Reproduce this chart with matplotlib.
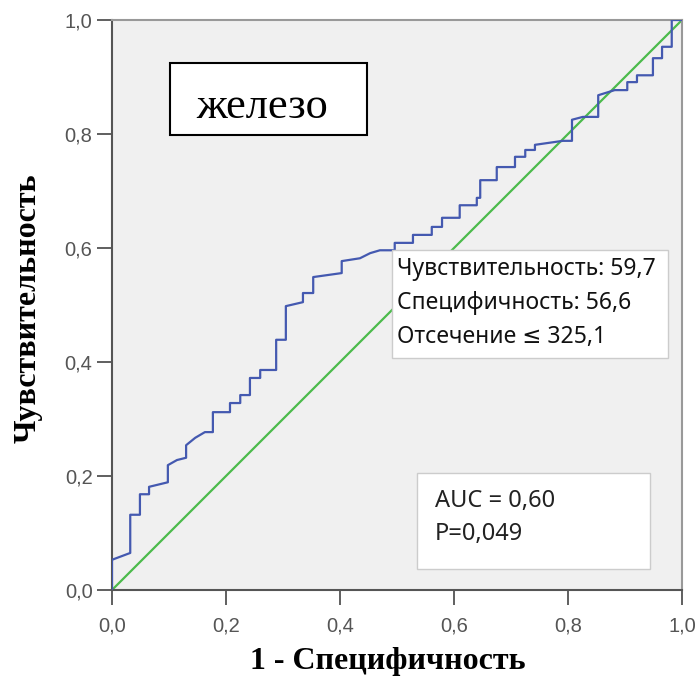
import matplotlib
matplotlib.use("Agg")
import matplotlib.pyplot as plt
from matplotlib.patches import Rectangle

# ROC curve vertices (1 - specificity, sensitivity)
fpr = [0.0, 0.0, 0.032, 0.032, 0.049, 0.049, 0.065, 0.065, 0.098, 0.098,
       0.114, 0.130, 0.130, 0.146, 0.163, 0.177, 0.177, 0.207, 0.207, 0.225,
       0.225, 0.242, 0.242, 0.260, 0.260, 0.288, 0.288, 0.305, 0.305, 0.335,
       0.335, 0.353, 0.353, 0.403, 0.403, 0.435, 0.453, 0.470, 0.496, 0.496,
       0.528, 0.528, 0.561, 0.561, 0.579, 0.579, 0.610, 0.610, 0.640, 0.640,
       0.646, 0.646, 0.675, 0.675, 0.707, 0.707, 0.725, 0.725, 0.742, 0.742,
       0.791, 0.807, 0.807, 0.826, 0.853, 0.853, 0.882, 0.904, 0.904, 0.921,
       0.921, 0.949, 0.949, 0.965, 0.965, 0.982, 0.982, 1.0]
tpr = [0.0, 0.053, 0.065, 0.132, 0.132, 0.168, 0.168, 0.181, 0.189, 0.219,
       0.228, 0.232, 0.254, 0.267, 0.277, 0.277, 0.312, 0.312, 0.328, 0.328,
       0.342, 0.342, 0.372, 0.372, 0.386, 0.386, 0.439, 0.439, 0.498, 0.505,
       0.521, 0.521, 0.549, 0.556, 0.577, 0.582, 0.591, 0.596, 0.596, 0.609,
       0.609, 0.623, 0.623, 0.637, 0.637, 0.653, 0.653, 0.675, 0.675, 0.688,
       0.688, 0.719, 0.719, 0.742, 0.742, 0.760, 0.760, 0.772, 0.772, 0.781,
       0.788, 0.788, 0.825, 0.830, 0.830, 0.868, 0.877, 0.877, 0.891, 0.891,
       0.903, 0.903, 0.933, 0.933, 0.953, 0.953, 1.0, 1.0]

ref_line = [0, 1]
ticks = [0.0, 0.2, 0.4, 0.6, 0.8, 1.0]
tick_labels = ["0,0", "0,2", "0,4", "0,6", "0,8", "1,0"]

title = "железо"
cutoff_lines = ["Чувствительность: 59,7", "Специфичность: 56,6", "Отсечение ≤ 325,1"]
auc_lines = ["AUC = 0,60", "P=0,049"]

sans = ["Noto Sans", "DejaVu Sans"]

fig = plt.figure(figsize=(6.99, 6.84), dpi=100)
ax = fig.add_axes([112/699, 94/684, 570/699, 570/684])
ax.set_facecolor("#f0f0f0")

ax.plot(ref_line, ref_line, color="#4cbb4c", lw=1.6, zorder=2)
ax.plot(fpr, tpr, color="#4459b0", lw=1.6, zorder=3)

ax.set_xlim(0, 1)
ax.set_ylim(0, 1)
ax.set_xticks(ticks)
ax.set_xticklabels(tick_labels)
ax.set_yticks(ticks)
ax.set_yticklabels(tick_labels)
for lab in ax.get_xticklabels() + ax.get_yticklabels():
    lab.set_fontfamily("Liberation Sans")
    lab.set_fontsize(14.5)
    lab.set_color("#555555")
ax.tick_params(axis="x", length=11, width=1.2, color="#444444", pad=8)
ax.tick_params(axis="y", length=11, width=1.2, color="#444444", pad=3)

ax.spines["left"].set_color("#555555")
ax.spines["bottom"].set_color("#555555")
ax.spines["top"].set_color("#999999")
ax.spines["right"].set_color("#999999")
for s in ax.spines.values():
    s.set_linewidth(1.5)

# title box
ax.add_patch(Rectangle((0.102, 0.798), 0.345, 0.127, facecolor="white",
                       edgecolor="black", lw=1.5, zorder=5))
ax.text(0.264, 0.828, title, ha="center", va="baseline", fontsize=32,
        family="Liberation Serif", zorder=6)

# cutoff box
ax.add_patch(Rectangle((0.491, 0.407), 0.484, 0.189, facecolor="white",
                       edgecolor="#cccccc", lw=1, zorder=5))
for i, t in enumerate(cutoff_lines):
    ax.text(0.500, 0.563 - i * 0.0595, t, ha="left", va="center", fontsize=16.5,
            family=sans, color="#111111", zorder=6)

# AUC box
ax.add_patch(Rectangle((0.535, 0.037), 0.409, 0.168, facecolor="white",
                       edgecolor="#cccccc", lw=1, zorder=5))
for i, t in enumerate(auc_lines):
    ax.text(0.567, 0.156 - i * 0.057, t, ha="left", va="center", fontsize=17,
            family=sans, color="#222222", zorder=6)

fig.text(388/699, 1 - 662/684, "1 - Специфичность", ha="center", va="center",
         fontsize=23, fontweight="bold", family="Liberation Serif")
fig.text(28/699, 1 - 308/684, "Чувствительность", ha="center", va="center",
         rotation=90, fontsize=23, fontweight="bold", family="Liberation Serif")

fig.savefig("out.png", dpi=100)
